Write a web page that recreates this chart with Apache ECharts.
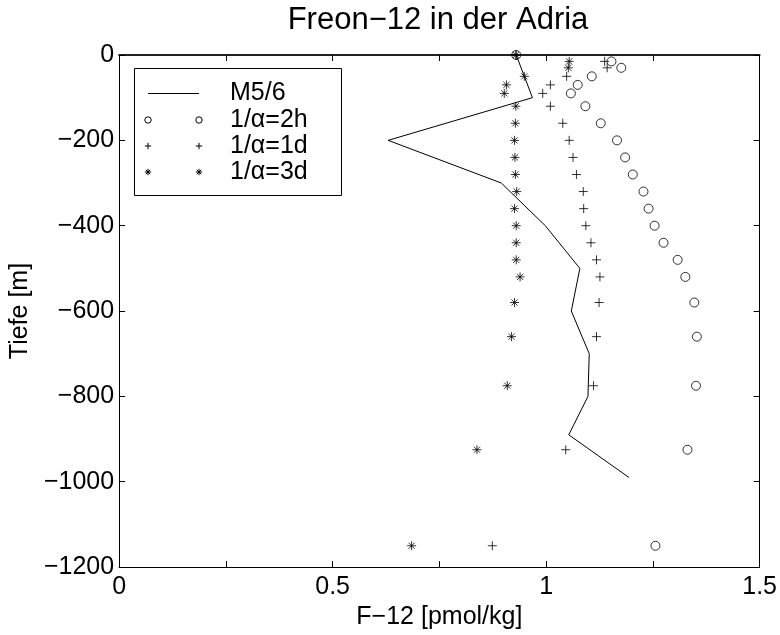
<!DOCTYPE html>
<html>
<head>
<meta charset="utf-8">
<script src="https://cdn.jsdelivr.net/npm/echarts@6/dist/echarts.min.js"></script>
<style>
  html, body { margin: 0; padding: 0; background: #fff; }
  #chart { width: 780px; height: 635px; }
</style>
</head>
<body>
<div id="chart"></div>
<script>
// Sampling depths of the model runs [m]
const depths = [0, -15, -30, -50, -70, -90, -120, -160, -200, -240, -280, -320, -360, -400,
                -440, -480, -520, -580, -660, -775, -925, -1150];

// F-12 concentrations [pmol/kg] for each relaxation time
const f12_2h = [0.93, 1.153, 1.176, 1.107, 1.074, 1.058, 1.092, 1.128, 1.166, 1.185, 1.203, 1.228,
                1.240, 1.254, 1.275, 1.308, 1.326, 1.347, 1.353, 1.351, 1.331, 1.256];
const f12_1d = [0.93, 1.137, 1.143, 1.048, 1.010, 0.992, 1.010, 1.039, 1.054, 1.063, 1.071, 1.087,
                1.088, 1.093, 1.105, 1.118, 1.126, 1.124, 1.118, 1.111, 1.046, 0.874];
const f12_3d = [0.929, 1.054, 1.052, 0.949, 0.907, 0.902, 0.929, 0.928, 0.926, 0.927, 0.928, 0.931,
                0.926, 0.930, 0.930, 0.930, 0.939, 0.926, 0.919, 0.909, 0.838, 0.685];

// Measured profile M5/6
const m56Depths = [0, -100, -200, -300, -400, -500, -600, -700, -800, -890, -990];
const m56Values = [0.93, 0.968, 0.63, 0.895, 0.998, 1.079, 1.059, 1.101, 1.098, 1.053, 1.194];

const legendLabels = ['M5/6', '1/\u03b1=2h', '1/\u03b1=1d', '1/\u03b1=3d'];
const titleText = 'Freon\u221212 in der Adria';
const xName = 'F\u221212 [pmol/kg]';
const yName = 'Tiefe [m]';

const FONT = 'Liberation Sans, Arial, Helvetica, sans-serif';

const pairs = (xs, ys) => xs.map((v, i) => [v, ys[i]]);

// Marker paths: MATLAB-like '+' and '*'
const PLUS = 'path://M5,0L5,10M0,5L10,5';
const STAR = 'path://M5,0L5,10M0,5L10,5M1.6,1.6L8.4,8.4M1.6,8.4L8.4,1.6';

const markerStyle = { color: 'rgba(0,0,0,0)', borderColor: '#000', borderWidth: 1 };

// Legend drawn in MATLAB style: box, line sample / two markers, label
function legendGraphic() {
  const bx = 134.5, by = 68.5, bw = 207, bh = 127;
  const x1 = 148, x2 = 199, tx = 230;
  const rows = [93.5, 120, 146, 172];
  const kids = [{
    type: 'rect', shape: { x: bx, y: by, width: bw, height: bh },
    style: { fill: '#fff', stroke: '#000', lineWidth: 1 }
  }];
  const mk = (kind, cx, cy) => {
    const r = 3.2;
    if (kind === 'circle') {
      return [{ type: 'circle', shape: { cx: cx, cy: cy, r: r }, style: { fill: 'none', stroke: '#000', lineWidth: 1 } }];
    }
    const segs = [[cx - r, cy, cx + r, cy], [cx, cy - r, cx, cy + r]];
    if (kind === 'star') {
      const d = r * 0.7;
      segs.push([cx - d, cy - d, cx + d, cy + d], [cx - d, cy + d, cx + d, cy - d]);
    }
    return segs.map(s => ({ type: 'line', shape: { x1: s[0], y1: s[1], x2: s[2], y2: s[3] }, style: { stroke: '#000', lineWidth: 1 } }));
  };
  kids.push({ type: 'line', shape: { x1: x1, y1: rows[0], x2: x2, y2: rows[0] }, style: { stroke: '#000', lineWidth: 1 } });
  const kinds = [null, 'circle', 'plus', 'star'];
  for (let i = 1; i < 4; i++) {
    kids.push(...mk(kinds[i], x1, rows[i]), ...mk(kinds[i], x2, rows[i]));
  }
  legendLabels.forEach((t, i) => {
    kids.push({
      type: 'text', x: tx, y: rows[i],
      style: { text: t, fill: '#000', font: '25px ' + FONT, textVerticalAlign: 'middle', textAlign: 'left' }
    });
  });
  return { type: 'group', z: 100, children: kids };
}

const axisCommon = {
  type: 'value',
  axisLine: { show: true, onZero: false, lineStyle: { color: '#000', width: 1 } },
  axisTick: { show: true, inside: true, length: 6, lineStyle: { color: '#000', width: 1 } },
  splitLine: { show: false }
};

const chart = echarts.init(document.getElementById('chart'), null, { renderer: 'canvas' });
chart.setOption({
  animation: false,
  backgroundColor: '#fff',
  title: {
    text: titleText,
    left: 438,
    textAlign: 'center',
    top: 5,
    padding: 0,
    textStyle: { fontFamily: FONT, fontSize: 31, fontWeight: 'normal', color: '#000' }
  },
  grid: { left: 116, right: 19, top: 55, bottom: 62, containLabel: false },
  xAxis: [
    Object.assign({}, axisCommon, {
      position: 'bottom', min: 0, max: 1.5, interval: 0.25,
      name: xName, nameLocation: 'middle', nameGap: 34,
      nameTextStyle: { fontFamily: FONT, fontSize: 25, color: '#000' },
      axisLabel: {
        margin: 8, fontFamily: FONT, fontSize: 25, color: '#000',
        formatter: v => (Math.abs(v * 2 - Math.round(v * 2)) < 1e-9 ? String(v) : '')
      }
    }),
    Object.assign({}, axisCommon, {
      position: 'top', min: 0, max: 1.5, interval: 0.25,
      axisLine: { show: true, onZero: false, lineStyle: { color: '#222', width: 2 } },
      axisLabel: { show: false }
    })
  ],
  yAxis: [
    Object.assign({}, axisCommon, {
      position: 'left', min: -1200, max: 0, interval: 200,
      name: yName, nameLocation: 'middle', nameGap: 78,
      nameTextStyle: { fontFamily: FONT, fontSize: 25, color: '#000' },
      axisLabel: {
        margin: 5, fontFamily: FONT, fontSize: 25, color: '#000',
        formatter: v => String(v).replace('-', '\u2212')
      }
    }),
    Object.assign({}, axisCommon, {
      position: 'right', min: -1200, max: 0, interval: 200,
      axisLabel: { show: false }
    })
  ],
  series: [
    {
      name: legendLabels[0], type: 'line', data: pairs(m56Values, m56Depths),
      showSymbol: false, symbol: 'none',
      lineStyle: { color: '#000', width: 1 }, z: 2
    },
    {
      name: legendLabels[1], type: 'scatter', data: pairs(f12_2h, depths),
      symbol: 'circle', symbolSize: 9, itemStyle: markerStyle, z: 3
    },
    {
      name: legendLabels[2], type: 'scatter', data: pairs(f12_1d, depths),
      symbol: PLUS, symbolSize: 9, itemStyle: markerStyle, z: 3
    },
    {
      name: legendLabels[3], type: 'scatter', data: pairs(f12_3d, depths),
      symbol: STAR, symbolSize: 9, itemStyle: markerStyle, z: 3
    }
  ],
  graphic: [legendGraphic()]
});
</script>
</body>
</html>
